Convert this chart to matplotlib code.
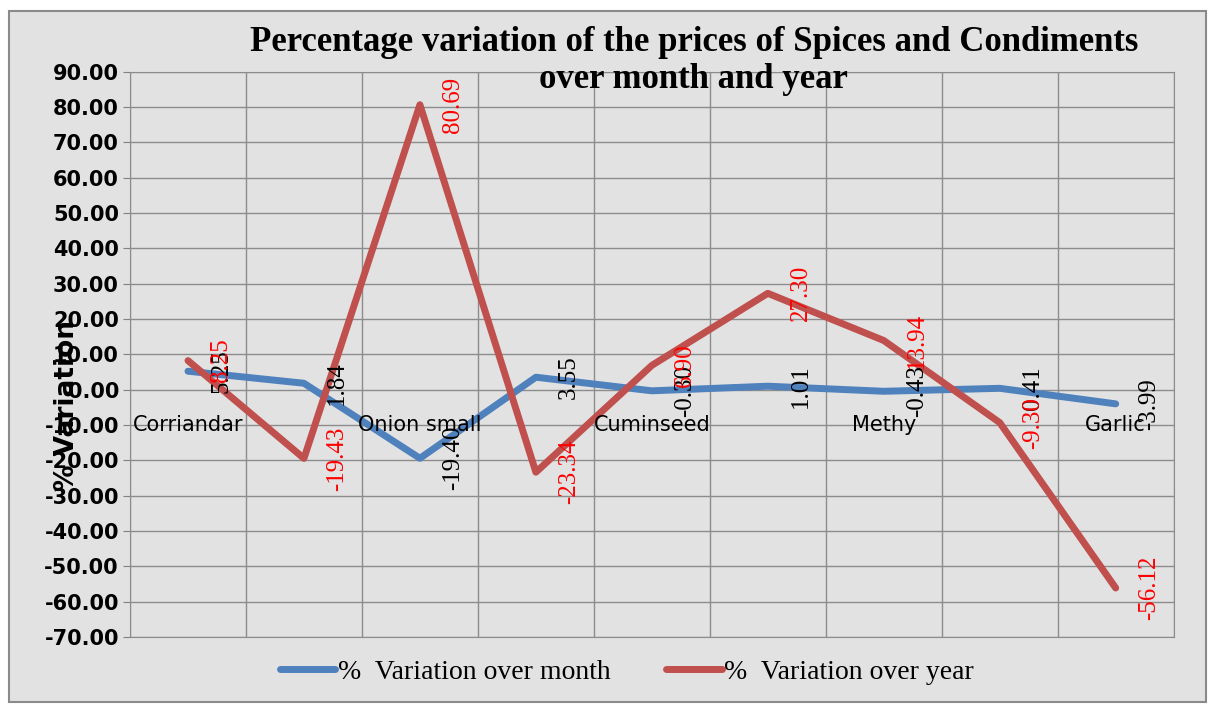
import numpy as np
import matplotlib.pyplot as plt
from matplotlib.patches import Rectangle

# data
categories = ["Corriandar", "", "Onion small", "", "Cuminseed", "", "Methy", "", "Garlic"]
month_vals = [5.25, 1.84, -19.40, 3.55, -0.30, 1.01, -0.43, 0.41, -3.99]
year_vals = [8.25, -19.43, 80.69, -23.34, 6.90, 27.30, 13.94, -9.30, -56.12]
yticks = np.arange(-70, 91, 10)

blue = "#4f81bd"
red = "#c0504d"

fig = plt.figure(figsize=(12.15, 7.11), dpi=100)
fig.patch.set_facecolor("white")
# grey "marble" panel behind the chart
fig.patches.append(Rectangle((0.007, 0.012), 0.986, 0.972, transform=fig.transFigure,
                             facecolor="#e2e2e2", edgecolor="#8a8a8a", lw=1.5, zorder=-10))

ax = fig.add_axes([0.107, 0.104, 0.859, 0.795])
ax.set_facecolor("none")

x = np.arange(len(categories))
ax.plot(x, month_vals, color=blue, lw=5, solid_capstyle="round", label="%  Variation over month", zorder=3)
ax.plot(x, year_vals, color=red, lw=5, solid_capstyle="round", label="%  Variation over year", zorder=4)

# data labels, rotated, to the right of each point
for xi, v in zip(x, month_vals):
    ax.annotate(f"{v:.2f}", (xi, v), xytext=(24, 0), textcoords="offset points",
                rotation=90, ha="center", va="center", fontsize=18,
                family="Liberation Serif", color="black", zorder=5)
for xi, v in zip(x, year_vals):
    ax.annotate(f"{v:.2f}", (xi, v), xytext=(24, 0), textcoords="offset points",
                rotation=90, ha="center", va="center", fontsize=18,
                family="Liberation Serif", color="red", zorder=6)

# category names sit on the -10 line
for xi, name in zip(x, categories):
    if name:
        ax.text(xi, -10, name, ha="center", va="center", fontsize=15, zorder=7)

ax.set_xlim(-0.5, len(categories) - 0.5)
ax.set_ylim(-70, 90)
ax.set_yticks(yticks)
ax.set_yticklabels([f"{t:.2f}" for t in yticks], fontsize=15, fontweight="bold")
ax.set_xticks(np.arange(-0.5, len(categories), 1))
ax.set_xticklabels([])
ax.tick_params(axis="x", length=0)
ax.tick_params(axis="y", length=5, color="#808080", pad=3)
ax.grid(True, color="#8c8c8c", lw=1)
ax.set_axisbelow(True)
for s in ax.spines.values():
    s.set_color("#8c8c8c")

fig.text(0.055, 0.43, "% Variation", rotation=90, ha="center", va="center",
         fontsize=19, fontweight="bold")

fig.text(0.571, 0.94, "Percentage variation of the prices of Spices and Condiments",
         ha="center", va="center", fontsize=25, fontweight="bold", family="Liberation Serif")
fig.text(0.571, 0.888, "over month and year",
         ha="center", va="center", fontsize=25, fontweight="bold", family="Liberation Serif")

leg = fig.legend(loc="center", bbox_to_anchor=(0.516, 0.055), ncol=2, frameon=False,
                 prop={"family": "Liberation Serif", "size": 20}, handlelength=2.0,
                 handletextpad=0.1, columnspacing=2.0)

fig.savefig("out.png", dpi=100)
